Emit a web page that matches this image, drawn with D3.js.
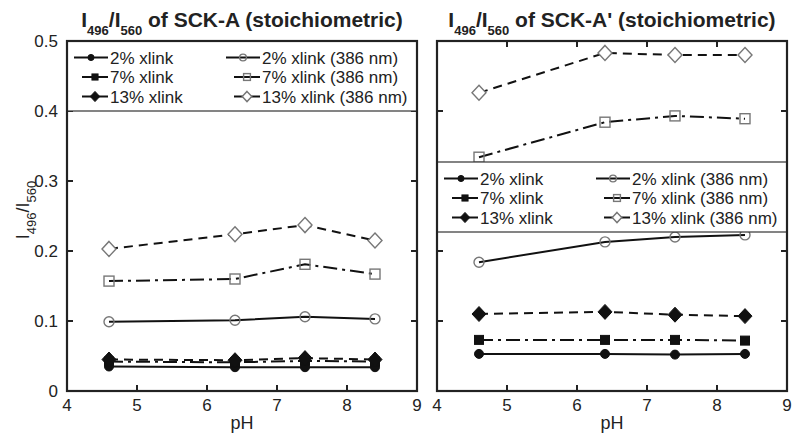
<!DOCTYPE html>
<html><head><meta charset="utf-8">
<script src="https://cdn.jsdelivr.net/npm/d3@7"></script>
<style>
body{margin:0;background:#fff}
svg{display:block}
text{font-family:"Liberation Sans",Arial,Helvetica,sans-serif;fill:#222}
</style>
</head><body>
<svg id="chart" width="800" height="440"></svg>
<script>
// ---------- data ----------
const pH = [4.6, 6.4, 7.4, 8.4];
const seriesLabels = ["2% xlink","7% xlink","13% xlink","2% xlink (386 nm)","7% xlink (386 nm)","13% xlink (386 nm)"];
const xTicks = [4,5,6,7,8,9];
const yTicks = [0,0.1,0.2,0.3,0.4,0.5];
const yTickLabels = ["0","0.1","0.2","0.3","0.4","0.5"];
const panelNames = ["SCK-A","SCK-A'"];

// SCK-A
const sckA_2 = [0.035,0.034,0.034,0.034];
const sckA_7 = [0.042,0.041,0.043,0.042];
const sckA_13 = [0.045,0.044,0.047,0.045];
const sckA_2_386 = [0.099,0.101,0.106,0.103];
const sckA_7_386 = [0.157,0.160,0.181,0.167];
const sckA_13_386 = [0.203,0.224,0.237,0.215];
// SCK-A'
const sckAp_2 = [0.053,0.053,0.052,0.053];
const sckAp_7 = [0.073,0.073,0.073,0.072];
const sckAp_13 = [0.110,0.113,0.109,0.107];
const sckAp_2_386 = [0.184,0.213,0.220,0.223];
const sckAp_7_386 = [0.334,0.384,0.393,0.389];
const sckAp_13_386 = [0.426,0.483,0.480,0.480];

const panelData = [
  [sckA_2,sckA_7,sckA_13,sckA_2_386,sckA_7_386,sckA_13_386],
  [sckAp_2,sckAp_7,sckAp_13,sckAp_2_386,sckAp_7_386,sckAp_13_386]
];

// ---------- styles ----------
const styles = [
  {dash:null, marker:"circle", open:false},
  {dash:"14,5,3,5", marker:"square", open:false},
  {dash:"9,6", marker:"diamond", open:false},
  {dash:null, marker:"circle", open:true},
  {dash:"14,5,3,5", marker:"square", open:true},
  {dash:"9,6", marker:"diamond", open:true}
];

const svg = d3.select("#chart");
const W = 350, H = 350, plotTop = 41;
const panels = [{x0:67, legendTop:41, legendBottom:111, ylabels:true},
                {x0:437, legendTop:162, legendBottom:232, ylabels:false}];

function drawMarker(g, type, open, cx, cy, k){
  k = k || 1;
  const stroke = open ? "#777" : "#111";
  const fill = open ? (type==="diamond" ? "#fff" : "none") : "#111";
  const sw = open ? 1.4 : 1;
  if(type==="circle"){
    g.append("circle").attr("cx",cx).attr("cy",cy).attr("r",(open?5:4.5)*k)
      .attr("fill",fill).attr("stroke",stroke).attr("stroke-width",sw);
  } else if(type==="square"){
    const s = (open?10:9)*k;
    g.append("rect").attr("x",cx-s/2).attr("y",cy-s/2).attr("width",s).attr("height",s)
      .attr("fill",fill).attr("stroke",stroke).attr("stroke-width",sw);
  } else {
    const rx = 7*k, ry = 7.5*k;
    g.append("path").attr("d",`M${cx},${cy-ry}L${cx+rx},${cy}L${cx},${cy+ry}L${cx-rx},${cy}Z`)
      .attr("fill",fill).attr("stroke",stroke).attr("stroke-width",sw);
  }
}

panels.forEach((p,pi)=>{
  const x = d3.scaleLinear().domain([4,9]).range([p.x0, p.x0+W]);
  const y = d3.scaleLinear().domain([0,0.5]).range([plotTop+H, plotTop]);
  const g = svg.append("g");

  const tl = 6;
  xTicks.forEach(t=>{
    g.append("line").attr("x1",x(t)).attr("x2",x(t)).attr("y1",y(0)).attr("y2",y(0)-tl).attr("stroke","#222").attr("stroke-width",2);
    g.append("line").attr("x1",x(t)).attr("x2",x(t)).attr("y1",y(0.5)).attr("y2",y(0.5)+tl).attr("stroke","#222").attr("stroke-width",2);
    g.append("text").attr("x",x(t)).attr("y",y(0)+20).attr("text-anchor","middle").attr("font-size",17).text(t);
  });
  yTicks.forEach((t,i)=>{
    g.append("line").attr("x1",x(4)).attr("x2",x(4)+tl).attr("y1",y(t)).attr("y2",y(t)).attr("stroke","#222").attr("stroke-width",2);
    g.append("line").attr("x1",x(9)).attr("x2",x(9)-tl).attr("y1",y(t)).attr("y2",y(t)).attr("stroke","#222").attr("stroke-width",2);
    if(p.ylabels){
      g.append("text").attr("x",x(4)-9).attr("y",y(t)+6).attr("text-anchor","end").attr("font-size",17).text(yTickLabels[i]);
    }
  });

  const line = d3.line().x((d,i)=>x(pH[i])).y(d=>y(d));
  panelData[pi].forEach((vals,si)=>{
    const st = styles[si];
    g.append("path").attr("d",line(vals)).attr("fill","none").attr("stroke","#111")
      .attr("stroke-width",2).attr("stroke-dasharray",st.dash);
  });
  panelData[pi].forEach((vals,si)=>{
    const st = styles[si];
    vals.forEach((v,i)=>drawMarker(g, st.marker, st.open, x(pH[i]), y(v), 1));
  });

  // legend box
  g.append("rect").attr("x",x(4)).attr("y",p.legendTop).attr("width",W).attr("height",p.legendBottom-p.legendTop)
    .attr("fill","#fff").attr("stroke","#333").attr("stroke-width",1.2);
  const colText = [43, 195];
  const rowY = [16.5, 36, 55.5];
  seriesLabels.forEach((lab,si)=>{
    const col = si<3?0:1, row = si%3;
    const tx = p.x0 + colText[col];
    const ty = p.legendTop + rowY[row];
    const len = row===0 ? 34 : 26;
    const st = styles[si];
    g.append("line").attr("x1",tx-len-2).attr("x2",tx-2).attr("y1",ty).attr("y2",ty)
      .attr("stroke","#111").attr("stroke-width",2);
    drawMarker(g, st.marker, st.open, tx-2-len/2, ty, 0.68);
    g.append("text").attr("x",tx).attr("y",ty+6).attr("font-size",17).text(lab);
  });

  // frame
  g.append("rect").attr("x",x(4)).attr("y",y(0.5)).attr("width",W).attr("height",H)
    .attr("fill","none").attr("stroke","#222").attr("stroke-width",2.2);

  // title
  const t = g.append("text").attr("x",p.x0+W/2).attr("y",27).attr("text-anchor","middle")
    .attr("font-size",21).attr("font-weight","bold");
  t.append("tspan").text("I");
  t.append("tspan").attr("dy",8).attr("font-size",13).text("496");
  t.append("tspan").attr("dy",-8).text("/I");
  t.append("tspan").attr("dy",8).attr("font-size",13).text("560");
  t.append("tspan").attr("dy",-8).text(" of " + panelNames[pi] + " (stoichiometric)");

  g.append("text").attr("x",p.x0+W/2).attr("y",429).attr("text-anchor","middle").attr("font-size",18).text("pH");
});

// y label
const yl = svg.append("text").attr("transform","translate(29,210) rotate(-90)").attr("text-anchor","middle").attr("font-size",18);
yl.append("tspan").text("I");
yl.append("tspan").attr("dy",7).attr("font-size",13).text("496");
yl.append("tspan").attr("dy",-7).text("/I");
yl.append("tspan").attr("dy",7).attr("font-size",13).text("560");
</script>
</body></html>
